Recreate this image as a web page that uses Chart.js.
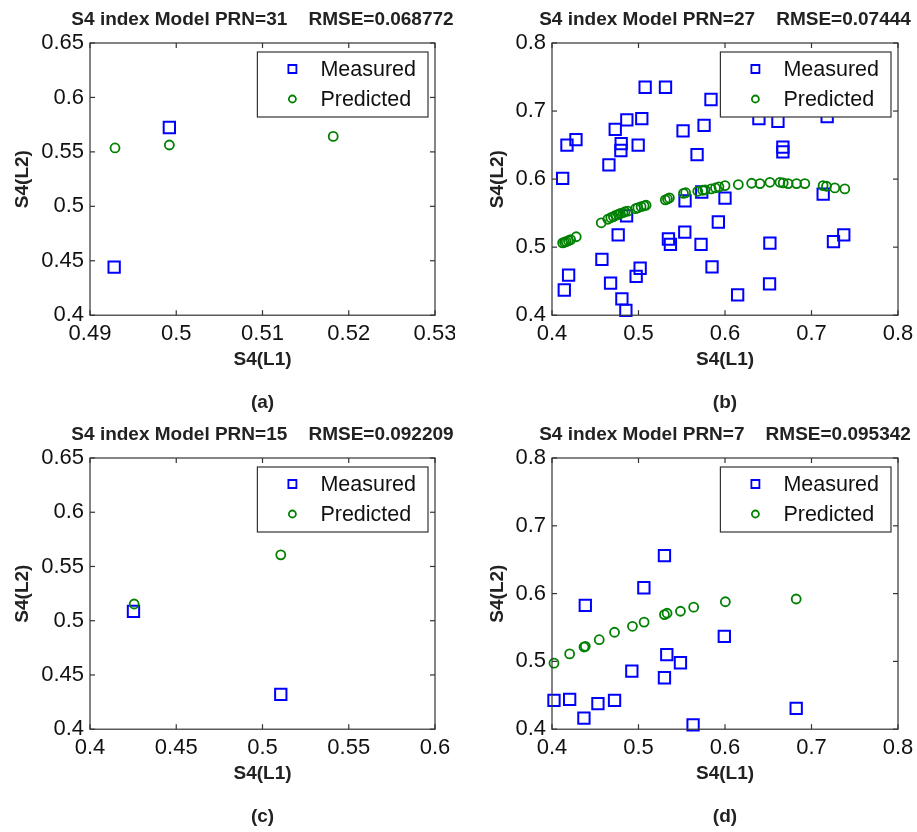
<!DOCTYPE html>
<html>
<head>
<meta charset="utf-8">
<script src="https://cdn.jsdelivr.net/npm/chart.js@4.4.0/dist/chart.umd.min.js"></script>
<style>
  body { margin: 0; background: #fff; }
  .panel { position: absolute; }
</style>
</head>
<body>
<div class="panel" style="left:0;top:0"><canvas id="chartA" width="455" height="420"></canvas></div>
<div class="panel" style="left:455px;top:0"><canvas id="chartB" width="462" height="420"></canvas></div>
<div class="panel" style="left:0;top:420px"><canvas id="chartC" width="455" height="412"></canvas></div>
<div class="panel" style="left:455px;top:420px"><canvas id="chartD" width="462" height="412"></canvas></div>
<script>
const FONT = "'Liberation Sans', Arial, Helvetica, sans-serif"

// PRN 31
const measXA = [0.4928, 0.4992]
const measYA = [0.4442, 0.5724]
const predXA = [0.4929, 0.4992, 0.5182]
const predYA = [0.5536, 0.5563, 0.5642]
const xTicksA = [0.49, 0.5, 0.51, 0.52, 0.53]
const yTicksA = [0.4, 0.45, 0.5, 0.55, 0.6, 0.65]

// PRN 27
const measXB = [0.4123, 0.4173, 0.4277, 0.4142, 0.4192, 0.4577, 0.4677, 0.4658, 0.4731, 0.4800, 0.4796, 0.4765,
  0.4865, 0.4862, 0.4808, 0.4854, 0.4973, 0.5019, 0.4996, 0.5038, 0.5077, 0.5312, 0.5346, 0.5369, 0.5515, 0.5538,
  0.5535, 0.5677, 0.5758, 0.5731, 0.5723, 0.5838, 0.5850, 0.5923, 0.6000, 0.6146, 0.6392, 0.6519, 0.6515, 0.6612,
  0.6669, 0.6669, 0.7135, 0.7181, 0.7254, 0.7373]
const measYB = [0.601, 0.650, 0.658, 0.437, 0.459, 0.482, 0.447, 0.621, 0.673, 0.652, 0.642, 0.518,
  0.687, 0.546, 0.424, 0.407, 0.457, 0.469, 0.650, 0.689, 0.735, 0.735, 0.512, 0.504, 0.671, 0.568,
  0.522, 0.636, 0.679, 0.581, 0.504, 0.717, 0.471, 0.537, 0.572, 0.430, 0.689, 0.506, 0.446, 0.685,
  0.647, 0.640, 0.578, 0.692, 0.508, 0.518]
const predXB = [0.4123, 0.4145, 0.4165, 0.4190, 0.4215, 0.4280, 0.4569, 0.4645, 0.4680, 0.4710, 0.4742, 0.4768,
  0.4790, 0.4820, 0.4845, 0.4877, 0.4965, 0.4992, 0.5030, 0.5065, 0.5088, 0.5310, 0.5335, 0.5357, 0.5520, 0.5545,
  0.5685, 0.5742, 0.5770, 0.5840, 0.5890, 0.5930, 0.6000, 0.6154, 0.6308, 0.6404, 0.6519, 0.6635, 0.6673, 0.6730,
  0.6827, 0.6923, 0.7134, 0.7173, 0.7269, 0.7385]
const predYB = [0.5063, 0.5072, 0.5082, 0.5095, 0.5110, 0.5153, 0.5358, 0.5410, 0.5432, 0.5448, 0.5470, 0.5482,
  0.5495, 0.5505, 0.5520, 0.5528, 0.5565, 0.5578, 0.5595, 0.5608, 0.5616, 0.5695, 0.5708, 0.5724, 0.5790, 0.5800,
  0.5821, 0.5836, 0.5842, 0.5856, 0.5870, 0.5886, 0.5905, 0.5920, 0.5939, 0.5934, 0.5953, 0.5953, 0.5944, 0.5934,
  0.5934, 0.5934, 0.5905, 0.5895, 0.5871, 0.5856]
const xTicksB = [0.4, 0.5, 0.6, 0.7, 0.8]
const yTicksB = [0.4, 0.5, 0.6, 0.7, 0.8]

// PRN 15
const measXC = [0.4252, 0.5106]
const measYC = [0.5086, 0.4321]
const predXC = [0.4256, 0.5106]
const predYC = [0.5154, 0.5607]
const xTicksC = [0.4, 0.45, 0.5, 0.55, 0.6]
const yTicksC = [0.4, 0.45, 0.5, 0.55, 0.6, 0.65]

// PRN 7
const measXD = [0.4023, 0.4204, 0.4369, 0.4385, 0.4531, 0.4723, 0.4923, 0.5062, 0.5300, 0.5300, 0.5327, 0.5485,
  0.5631, 0.5992, 0.6823]
const measYD = [0.4426, 0.4441, 0.4162, 0.5826, 0.4377, 0.4426, 0.4857, 0.6086, 0.6560, 0.4759, 0.5100, 0.4980,
  0.4064, 0.5370, 0.4308]
const predXD = [0.4023, 0.4204, 0.4370, 0.4385, 0.4546, 0.4723, 0.4930, 0.5065, 0.5300, 0.5330, 0.5485, 0.5638,
  0.6004, 0.6823]
const predYD = [0.4974, 0.5110, 0.5212, 0.5222, 0.5320, 0.5430, 0.5518, 0.5580, 0.5690, 0.5710, 0.5740, 0.5800,
  0.5880, 0.5920]
const xTicksD = [0.4, 0.5, 0.6, 0.7, 0.8]
const yTicksD = [0.4, 0.5, 0.6, 0.7, 0.8]

const seriesNames = ["Measured", "Predicted"]

const pairs = (xs, ys) => xs.map((x, i) => ({ x: x, y: ys[i] }))

// box around the axes, inward ticks on all four sides, the legend in the upper right corner
// and the panel title, centred over the plot area and allowed to run wider than it
const boxAxes = {
  id: "boxAxes",
  afterDatasetsDraw(chart, args, opts) {
    const { ctx, chartArea: a, scales } = chart
    const line = (x1, y1, x2, y2) => { ctx.beginPath(); ctx.moveTo(x1, y1); ctx.lineTo(x2, y2); ctx.stroke() }
    ctx.save()
    ctx.strokeStyle = "#333"
    ctx.lineWidth = 1.2
    ctx.strokeRect(a.left, a.top, a.right - a.left, a.bottom - a.top)
    scales.x.ticks.forEach(t => {
      const px = scales.x.getPixelForValue(t.value)
      line(px, a.bottom, px, a.bottom - 5)
      line(px, a.top, px, a.top + 5)
    })
    scales.y.ticks.forEach(t => {
      const py = scales.y.getPixelForValue(t.value)
      line(a.left, py, a.left + 5, py)
      line(a.right, py, a.right - 5, py)
    })

    // legend
    const sets = chart.data.datasets
    ctx.font = "21.5px " + FONT
    const textW = Math.max(...sets.map(d => ctx.measureText(d.label).width))
    const w = 63 + textW + 12
    const h = 65
    const lx = a.right - 7 - w
    const ly = a.top + 9
    ctx.fillStyle = "#fff"
    ctx.fillRect(lx, ly, w, h)
    ctx.strokeStyle = "#333"
    ctx.strokeRect(lx, ly, w, h)
    sets.forEach((d, i) => {
      const cy = ly + 17 + i * 30
      const mx = lx + 35
      ctx.strokeStyle = d.borderColor
      ctx.lineWidth = 1.8
      ctx.beginPath()
      if (d.pointStyle === "rect") ctx.rect(mx - 4, cy - 4, 8, 8)
      else ctx.arc(mx, cy, 3.5, 0, Math.PI * 2)
      ctx.stroke()
      ctx.fillStyle = "#111"
      ctx.textAlign = "left"
      ctx.textBaseline = "middle"
      ctx.fillText(d.label, lx + 63, cy + 1)
    })

    // title
    ctx.font = "bold 19px " + FONT
    ctx.fillStyle = "#222"
    ctx.textAlign = "center"
    ctx.textBaseline = "middle"
    ctx.fillText(opts.text, (a.left + a.right) / 2, opts.y)
    ctx.restore()
  }
}

const makePanel = (id, p) => {
  const tickFont = { family: FONT, size: 22 }
  const labelFont = { family: FONT, size: 19, weight: "bold" }
  return new Chart(document.getElementById(id), {
    type: "scatter",
    data: {
      datasets: [
        {
          label: seriesNames[0],
          data: pairs(p.measX, p.measY),
          pointStyle: "rect",
          radius: 8,
          borderColor: "#0000ff",
          backgroundColor: "rgba(0,0,0,0)",
          borderWidth: 2,
          clip: false,
          order: 1
        },
        {
          label: seriesNames[1],
          data: pairs(p.predX, p.predY),
          pointStyle: "circle",
          radius: 4.5,
          borderColor: "#008000",
          backgroundColor: "rgba(0,0,0,0)",
          borderWidth: 1.8,
          clip: false,
          order: 0
        }
      ]
    },
    options: {
      responsive: false,
      animation: false,
      events: [],
      layout: { padding: { left: 0, right: p.padRight, top: p.padTop, bottom: 0 } },
      plugins: {
        legend: { display: false },
        tooltip: { enabled: false },
        title: { display: false },
        subtitle: {
          display: true,
          text: p.tag,
          position: "bottom",
          fullSize: false,
          color: "#222",
          font: labelFont,
          padding: p.subPad
        },
        boxAxes: { text: p.title, y: p.titleY }
      },
      scales: {
        x: {
          type: "linear",
          min: p.xTicks[0],
          max: p.xTicks[p.xTicks.length - 1],
          afterBuildTicks: s => { s.ticks = p.xTicks.map(v => ({ value: v })) },
          afterFit: s => { s.height = 56; s.paddingLeft = 0; s.paddingRight = 0 },
          ticks: { font: tickFont, color: "#111", padding: 6, maxRotation: 0, autoSkip: false, callback: v => String(v) },
          grid: { display: false, drawTicks: false },
          border: { display: false },
          title: { display: true, text: "S4(L1)", color: "#222", font: labelFont, padding: { top: 0, bottom: 0 } }
        },
        y: {
          type: "linear",
          min: p.yTicks[0],
          max: p.yTicks[p.yTicks.length - 1],
          afterBuildTicks: s => { s.ticks = p.yTicks.map(v => ({ value: v })) },
          afterFit: s => { s.width = p.yWidth; s.paddingTop = 0; s.paddingBottom = 0 },
          ticks: { font: tickFont, color: "#111", padding: 6, autoSkip: false, callback: v => String(v) },
          grid: { display: false, drawTicks: false },
          border: { display: false },
          title: { display: true, text: "S4(L2)", color: "#222", font: labelFont, padding: { top: p.yTitlePad, bottom: 0 } }
        }
      }
    },
    plugins: [boxAxes]
  })
}

makePanel("chartA", {
  measX: measXA, measY: measYA, predX: predXA, predY: predYA, xTicks: xTicksA, yTicks: yTicksA,
  title: "S4 index Model PRN=31    RMSE=0.068772", tag: "(a)",
  yWidth: 90, padRight: 20, yTitlePad: 11, padTop: 43, titleY: 20,
  subPad: { top: 20, bottom: 6 }
})
makePanel("chartB", {
  measX: measXB, measY: measYB, predX: predXB, predY: predYB, xTicks: xTicksB, yTicks: yTicksB,
  title: "S4 index Model PRN=27    RMSE=0.07444", tag: "(b)",
  yWidth: 97, padRight: 19, yTitlePad: 31, padTop: 43, titleY: 20,
  subPad: { top: 20, bottom: 6 }
})
makePanel("chartC", {
  measX: measXC, measY: measYC, predX: predXC, predY: predYC, xTicks: xTicksC, yTicks: yTicksC,
  title: "S4 index Model PRN=15    RMSE=0.092209", tag: "(c)",
  yWidth: 90, padRight: 20, yTitlePad: 11, padTop: 38, titleY: 15,
  subPad: { top: 20, bottom: 4 }
})
makePanel("chartD", {
  measX: measXD, measY: measYD, predX: predXD, predY: predYD, xTicks: xTicksD, yTicks: yTicksD,
  title: "S4 index Model PRN=7    RMSE=0.095342", tag: "(d)",
  yWidth: 97, padRight: 19, yTitlePad: 31, padTop: 38, titleY: 15,
  subPad: { top: 20, bottom: 4 }
})
</script>
</body>
</html>
